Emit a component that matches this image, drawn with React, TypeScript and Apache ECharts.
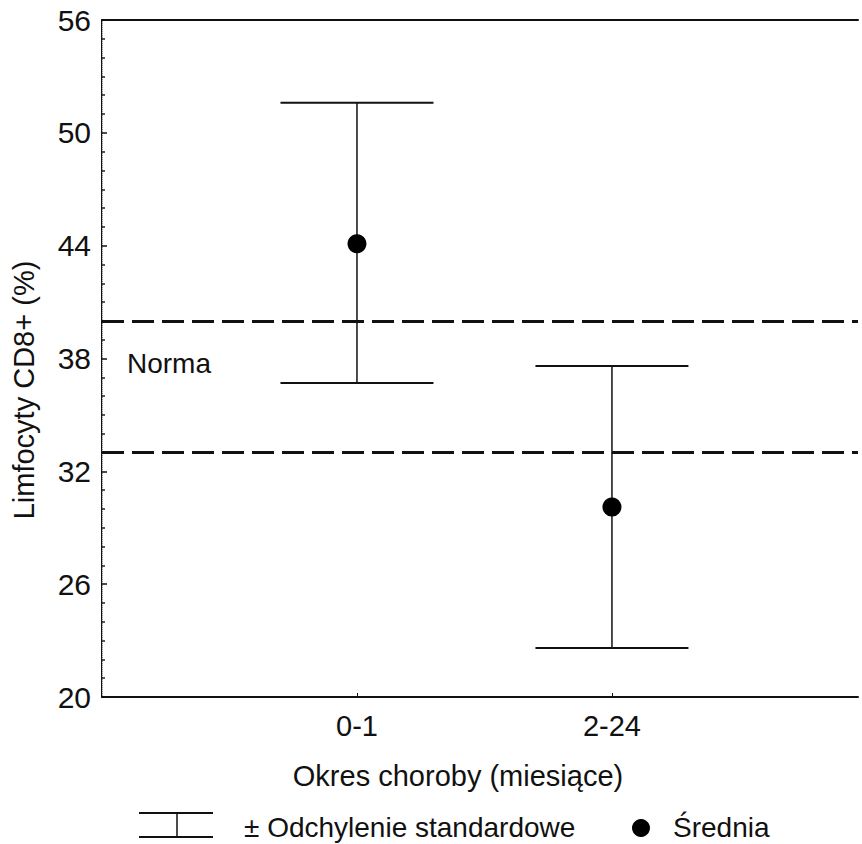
import React, { useEffect, useRef } from "react";
import * as echarts from "echarts";

const categories = ["0-1", "2-24"];
const means = [44.1, 30.1];
const upper = [51.6, 37.6];
const lower = [36.7, 22.6];
const normBounds = [40.0, 33.0];
const yTicks = { min: 20, max: 56, interval: 6 };

const FONT = "'Liberation Sans', Arial, Helvetica, sans-serif";

export default function App() {
  const ref = useRef<HTMLDivElement>(null);
  useEffect(() => {
    if (!ref.current) return;
    const chart = echarts.init(ref.current, null, { renderer: "svg" });
    const errData = categories.map((_, i) => [i + 1, lower[i], upper[i]]);
    const meanData = categories.map((_, i) => [i + 1, means[i]]);
    const option: any = {
      animation: false,
      backgroundColor: "#ffffff",
      textStyle: { fontFamily: FONT },
      grid: { left: 102, top: 20, width: 756, height: 677 },
      xAxis: [
        {
          type: "value",
          min: 0,
          max: 2.965,
          interval: 1,
          position: "bottom",
          splitLine: { show: false },
          axisLine: { show: true, lineStyle: { color: "#111", width: 2 } },
          axisTick: { show: true, inside: true, length: 4, lineStyle: { color: "#111", width: 1 } },
          axisLabel: {
            show: true,
            showMinLabel: false,
            showMaxLabel: false,
            margin: 14,
            color: "#111",
            fontSize: 29,
            fontFamily: FONT,
            formatter: (v: number) => categories[Math.round(v) - 1] ?? "",
          },
        },
        {
          type: "value",
          min: 0,
          max: 2.965,
          position: "top",
          splitLine: { show: false },
          axisLine: { show: true, lineStyle: { color: "#111", width: 2 } },
          axisTick: { show: false },
          axisLabel: { show: false },
        },
      ],
      yAxis: [
        {
          type: "value",
          min: yTicks.min,
          max: yTicks.max,
          interval: yTicks.interval,
          position: "left",
          splitLine: { show: false },
          axisLine: { show: true, lineStyle: { color: "#111", width: 2 } },
          axisTick: { show: true, inside: true, length: 5, lineStyle: { color: "#111", width: 1.5 } },
          minorTick: { show: true, splitNumber: 6, length: 3, lineStyle: { color: "#222", width: 1.5 } },
          axisLabel: { color: "#111", fontSize: 30, fontFamily: FONT, margin: 11 },
        },
        {
          type: "value",
          min: yTicks.min,
          max: yTicks.max,
          position: "right",
          splitLine: { show: false },
          axisLine: { show: true, lineStyle: { color: "#d8d8d8", width: 1, type: "dotted" } },
          axisTick: { show: false },
          axisLabel: { show: false },
        },
      ],
      series: [
        {
          type: "custom",
          xAxisIndex: 0,
          yAxisIndex: 0,
          data: errData,
          encode: { x: 0, y: [1, 2] },
          z: 3,
          renderItem: (params: any, api: any) => {
            const x = api.value(0);
            const lo = api.value(1);
            const hi = api.value(2);
            const pHi = api.coord([x, hi]);
            const pLo = api.coord([x, lo]);
            const half = api.size([0.3, 0])[0];
            const stroke = { stroke: "#111", lineWidth: 2 };
            return {
              type: "group",
              children: [
                { type: "line", shape: { x1: pHi[0], y1: pHi[1], x2: pLo[0], y2: pLo[1] }, style: { stroke: "#111", lineWidth: 1.5 } },
                { type: "line", shape: { x1: pHi[0] - half, y1: pHi[1], x2: pHi[0] + half, y2: pHi[1] }, style: stroke },
                { type: "line", shape: { x1: pLo[0] - half, y1: pLo[1], x2: pLo[0] + half, y2: pLo[1] }, style: stroke },
              ],
            };
          },
        },
        {
          type: "scatter",
          xAxisIndex: 0,
          yAxisIndex: 0,
          data: meanData,
          symbol: "circle",
          symbolSize: 19,
          itemStyle: { color: "#000", opacity: 1 },
          z: 5,
          markLine: {
            silent: true,
            symbol: ["none", "none"],
            label: { show: false },
            lineStyle: { color: "#111", width: 3, type: [22, 8] },
            data: normBounds.map((v) => ({ yAxis: v })),
          },
        },
      ],
      graphic: [
        {
          type: "text",
          x: 127,
          y: 363,
          style: { text: "Norma", font: `28px ${FONT}`, fill: "#111", verticalAlign: "middle", align: "left" },
        },
        {
          type: "text",
          x: 24,
          y: 390,
          rotation: Math.PI / 2,
          style: {
            text: "Limfocyty CD8+ (%)",
            font: `29px ${FONT}`,
            fill: "#111",
            align: "center",
            verticalAlign: "middle",
          },
        },
        {
          type: "text",
          x: 458,
          y: 776,
          style: {
            text: "Okres choroby (miesiące)",
            font: `29px ${FONT}`,
            fill: "#111",
            align: "center",
            verticalAlign: "middle",
          },
        },
        { type: "line", shape: { x1: 139, y1: 813, x2: 213, y2: 813 }, style: { stroke: "#111", lineWidth: 2 } },
        { type: "line", shape: { x1: 139, y1: 837, x2: 213, y2: 837 }, style: { stroke: "#111", lineWidth: 2 } },
        { type: "line", shape: { x1: 177, y1: 813, x2: 177, y2: 837 }, style: { stroke: "#111", lineWidth: 1.5 } },
        {
          type: "text",
          x: 244,
          y: 827,
          style: { text: "± Odchylenie standardowe", font: `28px ${FONT}`, fill: "#111", verticalAlign: "middle", align: "left" },
        },
        { type: "circle", shape: { cx: 641, cy: 828, r: 9 }, style: { fill: "#000" } },
        {
          type: "text",
          x: 673,
          y: 827,
          style: { text: "Średnia", font: `28px ${FONT}`, fill: "#111", verticalAlign: "middle", align: "left" },
        },
      ],
    };
    chart.setOption(option);
    return () => chart.dispose();
  }, []);
  return (
    <div
      ref={ref}
      style={{ position: "absolute", left: 0, top: 0, width: 862, height: 844, background: "#fff" }}
    />
  );
}
